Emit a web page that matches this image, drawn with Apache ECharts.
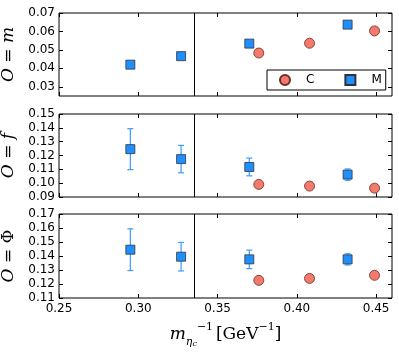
<!DOCTYPE html>
<html>
<head>
<meta charset="utf-8">
<script src="https://cdn.jsdelivr.net/npm/echarts@6/dist/echarts.min.js"></script>
<style>
  html, body { margin: 0; padding: 0; background: #fff; }
  #chart { width: 399px; height: 352px; }
</style>
</head>
<body>
<div id="chart"></div>
<script>
// x positions (inverse eta_c mass)
const xC = [0.376, 0.408, 0.449];
const xM = [0.295, 0.327, 0.370, 0.432];
const xTicks = [0.25, 0.30, 0.35, 0.40, 0.45];
const xCut = 0.335;

// O = m
const mC = [0.0483, 0.0536, 0.0603];
const mM = [0.0420, 0.0466, 0.0534, 0.0637];
const mMerr = [0.0004, 0.0004, 0.0004, 0.0004];
const mTicks = [0.03, 0.04, 0.05, 0.06, 0.07];

// O = f
const fC = [0.0991, 0.0979, 0.0964];
const fM = [0.1246, 0.1174, 0.1117, 0.1062];
const fMerr = [0.0148, 0.0099, 0.0064, 0.0041];
const fTicks = [0.09, 0.10, 0.11, 0.12, 0.13, 0.14, 0.15];

// O = Phi
const pC = [0.1226, 0.1240, 0.1262];
const pM = [0.1445, 0.1395, 0.1376, 0.1376];
const pMerr = [0.0149, 0.0102, 0.0066, 0.0040];
const pTicks = [0.11, 0.12, 0.13, 0.14, 0.15, 0.16, 0.17];

const colC = '#f47a6e';
const colM = '#1e8fff';
const colErr = '#3a9cff';
const font = 'DejaVu Sans';
const serif = 'DejaVu Serif';

const panels = [
  {top: 13, height: 83, min: 0.025, max: 0.07, ticks: mTicks, c: mC, m: mM, e: mMerr, sym: 'm'},
  {top: 114, height: 83, min: 0.09, max: 0.15, ticks: fTicks, c: fC, m: fM, e: fMerr, sym: 'f'},
  {top: 214, height: 84, min: 0.11, max: 0.17, ticks: pTicks, c: pC, m: pM, e: pMerr, sym: 'Φ'}
];

const zip = (xs, ys) => xs.map((x, i) => [x, ys[i]]);

const grid = [], xAxis = [], yAxis = [], series = [];

panels.forEach((p, k) => {
  grid.push({left: 59, right: 7, top: p.top, height: p.height, show: true,
    outerBoundsMode: 'none', containLabel: false,
    borderColor: '#000', borderWidth: 1, backgroundColor: 'transparent'});

  const last = k === panels.length - 1;
  const xBase = {
    type: 'value', gridIndex: k, min: 0.25, max: 0.46,
    axisLine: {show: false}, splitLine: {show: false},
    axisTick: {inside: true, length: 4, lineStyle: {color: '#000'}, customValues: xTicks},
  };
  xAxis.push(Object.assign({}, xBase, {
    position: 'bottom',
    axisLabel: {show: last, customValues: xTicks, formatter: v => v.toFixed(2),
      color: '#000', fontFamily: font, fontSize: 12, margin: 5},
    name: last ? '{m|m}{sub|η}{sub2|c}{sup|−1}{sp| }{t|[GeV}{sup|−1}{t|]}' : '',
    nameLocation: 'middle', nameGap: 24,
    nameTextStyle: {
      rich: {
        m: {fontFamily: serif, fontStyle: 'italic', fontSize: 17, color: '#000', lineHeight: 26},
        sub: {fontFamily: serif, fontStyle: 'italic', fontSize: 11, color: '#000', verticalAlign: 'bottom', lineHeight: 14},
        sub2: {fontFamily: serif, fontStyle: 'italic', fontSize: 8, color: '#000', verticalAlign: 'bottom', lineHeight: 8},
        sup: {fontFamily: serif, fontSize: 11, color: '#000', verticalAlign: 'top', lineHeight: 14},
        sp: {fontSize: 10, lineHeight: 26},
        t: {fontFamily: serif, fontSize: 17, color: '#000', lineHeight: 26}
      }
    }
  }));
  xAxis.push(Object.assign({}, xBase, {position: 'top', axisLabel: {show: false}}));

  const yBase = {
    type: 'value', gridIndex: k, min: p.min, max: p.max,
    axisLine: {show: false}, splitLine: {show: false},
    axisTick: {inside: true, length: 4, lineStyle: {color: '#000'}, customValues: p.ticks}
  };
  yAxis.push(Object.assign({}, yBase, {
    position: 'left',
    axisLabel: {customValues: p.ticks, formatter: v => v.toFixed(2),
      color: '#000', fontFamily: font, fontSize: 12, margin: 4},
    name: '{o|O}{t| = }{s|' + p.sym + '}',
    nameLocation: 'middle', nameGap: 33, nameRotate: 90,
    nameTextStyle: {
      rich: {
        o: {fontFamily: serif, fontStyle: 'italic', fontSize: 17, color: '#000'},
        t: {fontFamily: serif, fontSize: 17, color: '#000'},
        s: {fontFamily: serif, fontStyle: p.sym === 'Φ' ? 'normal' : 'italic', fontSize: 17, color: '#000'}
      }
    }
  }));
  yAxis.push(Object.assign({}, yBase, {position: 'right', axisLabel: {show: false}}));

  const xi = k * 2, yi = k * 2;

  series.push({
    type: 'custom', xAxisIndex: xi, yAxisIndex: yi, z: 2, silent: true,
    data: p.m.map((v, i) => [xM[i], v, p.e[i]]),
    renderItem: (params, api) => {
      const x = api.value(0), y = api.value(1), e = api.value(2);
      const hi = api.coord([x, y + e]);
      const lo = api.coord([x, y - e]);
      const st = {stroke: colErr, lineWidth: 1.2};
      return {type: 'group', children: [
        {type: 'line', shape: {x1: hi[0], y1: hi[1], x2: lo[0], y2: lo[1]}, style: st},
        {type: 'line', shape: {x1: hi[0] - 3, y1: hi[1], x2: hi[0] + 3, y2: hi[1]}, style: st},
        {type: 'line', shape: {x1: lo[0] - 3, y1: lo[1], x2: lo[0] + 3, y2: lo[1]}, style: st}
      ]};
    }
  });
  series.push({
    name: 'C', type: 'scatter', xAxisIndex: xi, yAxisIndex: yi, z: 3,
    symbol: 'circle', symbolSize: 10,
    itemStyle: {color: colC, borderColor: '#6b2b25', borderWidth: 0.8, opacity: 1},
    data: zip(xC, p.c)
  });
  series.push({
    name: 'M', type: 'scatter', xAxisIndex: xi, yAxisIndex: yi, z: 4,
    symbol: 'rect', symbolSize: 9,
    itemStyle: {color: colM, borderColor: '#333', borderWidth: 0.8, opacity: 1},
    data: zip(xM, p.m),
    markLine: {
      silent: true, symbol: 'none', label: {show: false}, precision: 4,
      lineStyle: {color: '#000', width: 1, type: 'solid'},
      data: [{xAxis: xCut}]
    }
  });
});

const chart = echarts.init(document.getElementById('chart'), null, {renderer: 'canvas'});
chart.setOption({
  animation: false,
  backgroundColor: '#fff',
  grid, xAxis, yAxis, series,
  legend: {
    data: ['C', 'M'],
    left: 267, top: 70,
    orient: 'horizontal',
    itemWidth: 10, itemHeight: 10, itemGap: 30,
    padding: [4, 4, 4, 12],
    borderColor: '#000', borderWidth: 1, borderRadius: 0,
    backgroundColor: '#fff',
    textStyle: {fontFamily: font, fontSize: 12, color: '#000', padding: [0, 0, 0, 11]},
    selectedMode: false
  }
});
</script>
</body>
</html>
